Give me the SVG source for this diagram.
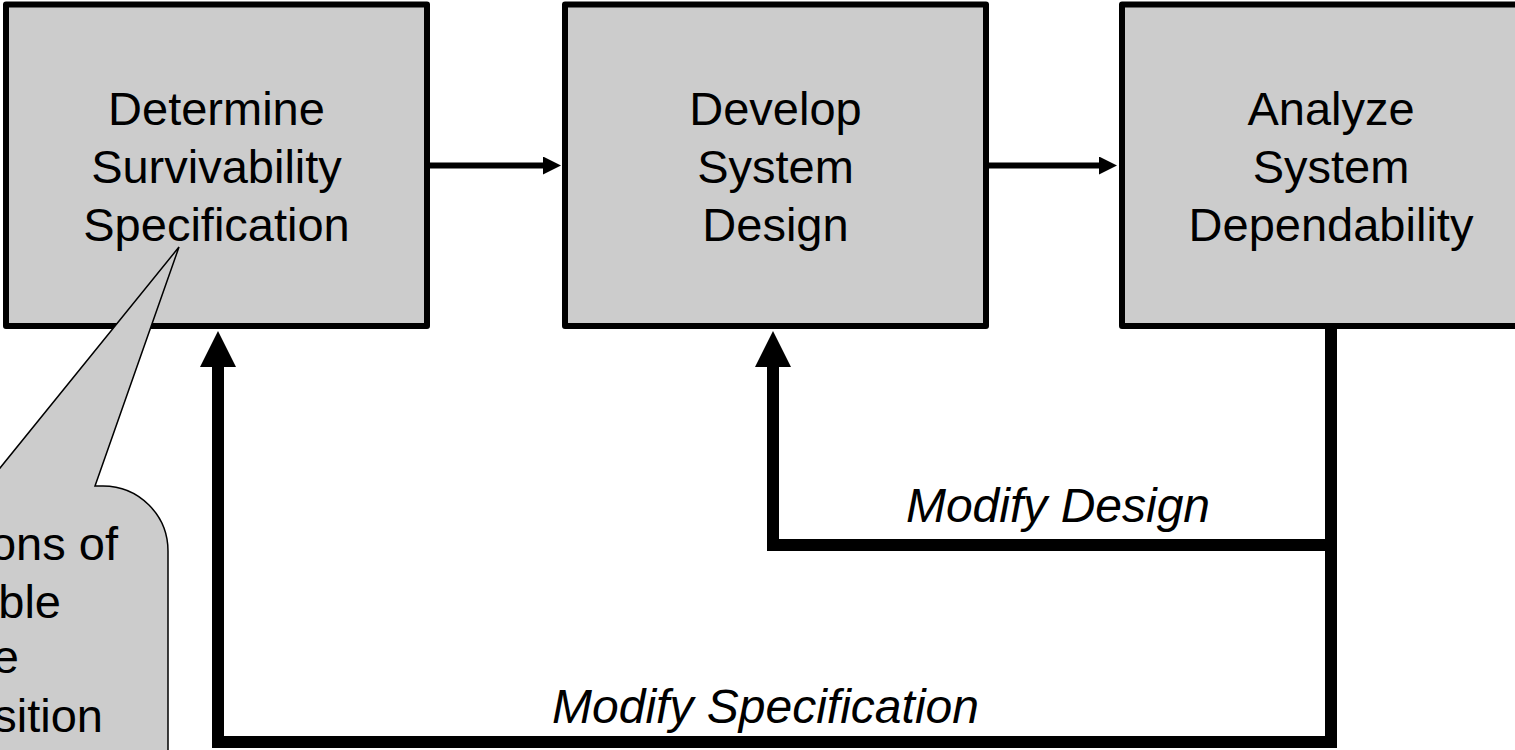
<svg xmlns="http://www.w3.org/2000/svg" width="1515" height="750" viewBox="0 0 1515 750">
  <style>
    .box { fill: #cccccc; stroke: #000000; stroke-width: 6; stroke-linejoin: round; }
    .label { font-family: "Liberation Sans", Arial, sans-serif; font-size: 47px; fill: #000000; text-anchor: middle; }
    .note { font-family: "Liberation Sans", Arial, sans-serif; font-size: 47px; fill: #000000; text-anchor: end; }
    .edge-label { font-family: "Liberation Sans", Arial, sans-serif; font-size: 48px; font-style: italic; fill: #000000; text-anchor: middle; }
    .flow { fill: none; stroke: #000000; stroke-width: 6; }
    .feedback { fill: none; stroke: #000000; stroke-width: 12; stroke-linejoin: miter; }
    .callout { fill: #cccccc; stroke: #000000; stroke-width: 1.5; stroke-linejoin: miter; }
  </style>
  <defs>
    <marker id="head-small" markerUnits="userSpaceOnUse" markerWidth="18" markerHeight="18" refX="0" refY="9" orient="auto">
      <path d="M0,0 L18,9 L0,18 Z" fill="#000000"/>
    </marker>
    <marker id="head-large" markerUnits="userSpaceOnUse" markerWidth="36" markerHeight="36" refX="0" refY="18" orient="auto">
      <path d="M0,0 L36,18 L0,36 Z" fill="#000000"/>
    </marker>
  </defs>

  <rect width="1515" height="750" fill="#ffffff"/>

  <!-- process steps -->
  <g id="node-determine">
    <rect class="box" x="6" y="4.5" width="421" height="321.5"/>
    <text class="label" x="216.5" y="124.5">Determine</text>
    <text class="label" x="216.5" y="182.5">Survivability</text>
    <text class="label" x="216.5" y="240.5">Specification</text>
  </g>

  <g id="node-develop">
    <rect class="box" x="565" y="4.5" width="421" height="321.5"/>
    <text class="label" x="775.5" y="124.5">Develop</text>
    <text class="label" x="775.5" y="182.5">System</text>
    <text class="label" x="775.5" y="240.5">Design</text>
  </g>

  <g id="node-analyze">
    <rect class="box" x="1122" y="4.5" width="421" height="321.5"/>
    <text class="label" x="1331" y="124.5">Analyze</text>
    <text class="label" x="1331" y="182.5">System</text>
    <text class="label" x="1331" y="240.5">Dependability</text>
  </g>

  <!-- callout attached to the specification step -->
  <g id="note-callout">
    <path class="callout" d="M-40,486 L-14.6,486 L179,247 L95,486 L103,486 A65,65 0 0 1 168,551 L168,770 L-40,770 Z"/>
    <text class="note" x="118" y="560">ons of</text>
    <text class="note" x="61" y="618">ble</text>
    <text class="note" x="19" y="673">e</text>
    <text class="note" x="103" y="732">sition</text>
  </g>

  <!-- connectors -->
  <g id="connectors">
    <path class="flow" d="M430,165.5 H543" marker-end="url(#head-small)"/>
    <path class="flow" d="M989,165.5 H1099" marker-end="url(#head-small)"/>
    <path class="feedback" d="M1331,329 V742 H218 V367" marker-end="url(#head-large)"/>
    <path class="feedback" d="M1331,545 H773 V367" marker-end="url(#head-large)"/>
    <text class="edge-label" x="1058" y="521.5">Modify Design</text>
    <text class="edge-label" x="765.5" y="722.5">Modify Specification</text>
  </g>
</svg>
